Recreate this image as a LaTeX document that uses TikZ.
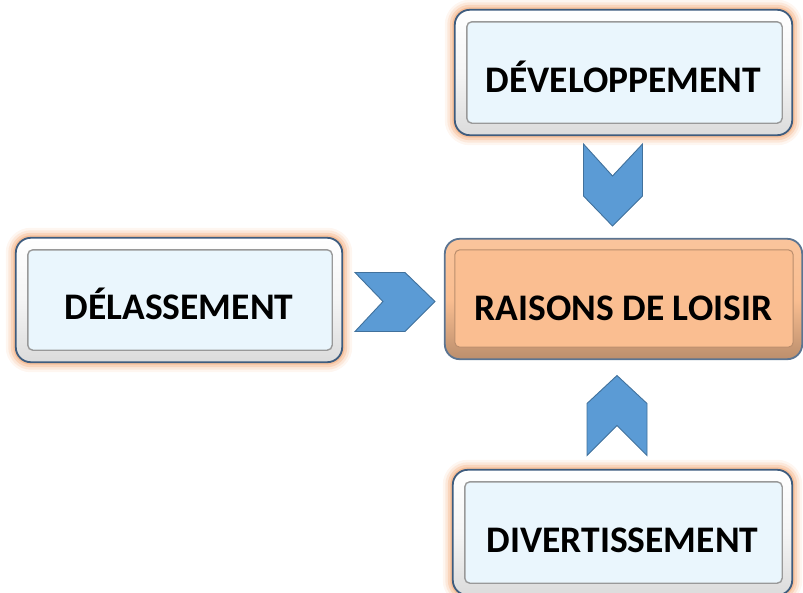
\documentclass[tikz,border=0pt]{standalone}
\usepackage{fontspec}
\setmainfont{Carlito}
\usetikzlibrary{calc}
\pgfdeclarelayer{bg}
\pgfsetlayers{bg,main}
\definecolor{glowc}{HTML}{F4B183}
\definecolor{edgec}{HTML}{3E5C7E}
\definecolor{innerc}{HTML}{EAF6FD}
\definecolor{peach}{HTML}{FABE91}
\definecolor{chevfill}{HTML}{5B9BD5}
\definecolor{chevedge}{HTML}{41719C}
\tikzset{
  boxshape/.style={inner sep=0pt},
  lbl/.style={font=\fontsize{37.5}{40}\selectfont\bfseries, text=black, inner sep=0pt},
  outershell/.style={rounded corners=15pt, draw=edgec, line width=1.8pt, top color=white, bottom color=black!14, middle color=white!96!black},
  innerbevel/.style={rounded corners=5pt, draw=black!40, line width=1.4pt, fill=innerc},
  peachshell/.style={rounded corners=15pt, draw=edgec!85, line width=1.8pt, top color=peach!90!white, bottom color=peach!75!black, middle color=peach},
  peachbevel/.style={rounded corners=5pt, draw=peach!75!black, line width=1pt, fill=peach},
  chev/.style={fill=chevfill, draw=chevedge, line width=0.9pt, line join=miter},
}
\newcommand{\bluebox}[1]{%
  \begin{pgfonlayer}{bg}
    \foreach \w/\o in {20/0.12,15/0.2,10/0.35,5/0.6}
      \draw[glowc, line width=\w pt, opacity=\o, rounded corners=15pt] (#1.north west) rectangle (#1.south east);
    \path[outershell] (#1.north west) rectangle (#1.south east);
    \path[innerbevel] ($(#1.north west)+(12,12)$) rectangle ($(#1.south east)+(-10,-12)$);
  \end{pgfonlayer}}
\begin{document}
\begin{tikzpicture}[x=1pt,y=-1pt]
\useasboundingbox (0,0) rectangle (803,592);
\node[boxshape, minimum width=337pt, minimum height=125pt, label={[lbl, yshift=-4pt]center:DÉVELOPPEMENT}] (dev) at (623.5,72.5) {};
\node[boxshape, minimum width=326pt, minimum height=124pt, label={[lbl, yshift=-4pt]center:DÉLASSEMENT}] (del) at (179,300) {};
\node[boxshape, minimum width=357pt, minimum height=120pt, label={[lbl, yshift=-9pt]center:RAISONS DE LOISIR}] (rai) at (623.5,299) {};
\node[boxshape, minimum width=339pt, minimum height=125pt, label={[lbl, yshift=-8pt]center:DIVERTISSEMENT}] (div) at (622.5,532.5) {};
\bluebox{dev}
\bluebox{del}
\bluebox{div}
\begin{pgfonlayer}{bg}
  \path[peachshell] (rai.north west) rectangle (rai.south east);
  \path[peachbevel] ($(rai.north west)+(10,11)$) rectangle ($(rai.south east)+(-9,-12)$);
\end{pgfonlayer}
% chevrons
\coordinate (c1) at ($(del.east)!0.5!(rai.west)+(1.5,2)$);
\coordinate (c2) at ($(dev.south)!0.5!(rai.north)+(-11,-2)$);
\coordinate (c3) at ($(rai.south)!0.5!(div.north)+(-6,1)$);
\draw[chev] ($(c1)+(-40,-29)$) -- ($(c1)+(10,-29)$) -- ($(c1)+(40,0)$) -- ($(c1)+(10,30)$) -- ($(c1)+(-40,30)$) -- ($(c1)+(-12,0)$) -- cycle;
\draw[chev] ($(c2)+(-29,-41)$) -- ($(c2)+(0,-9)$) -- ($(c2)+(30,-41)$) -- ($(c2)+(30,11)$) -- ($(c2)+(0,41)$) -- ($(c2)+(-29,11)$) -- cycle;
\draw[chev] ($(c3)+(0,-40)$) -- ($(c3)+(30,-12)$) -- ($(c3)+(30,40)$) -- ($(c3)+(0,10)$) -- ($(c3)+(-30,40)$) -- ($(c3)+(-30,-12)$) -- cycle;
\end{tikzpicture}
\end{document}
